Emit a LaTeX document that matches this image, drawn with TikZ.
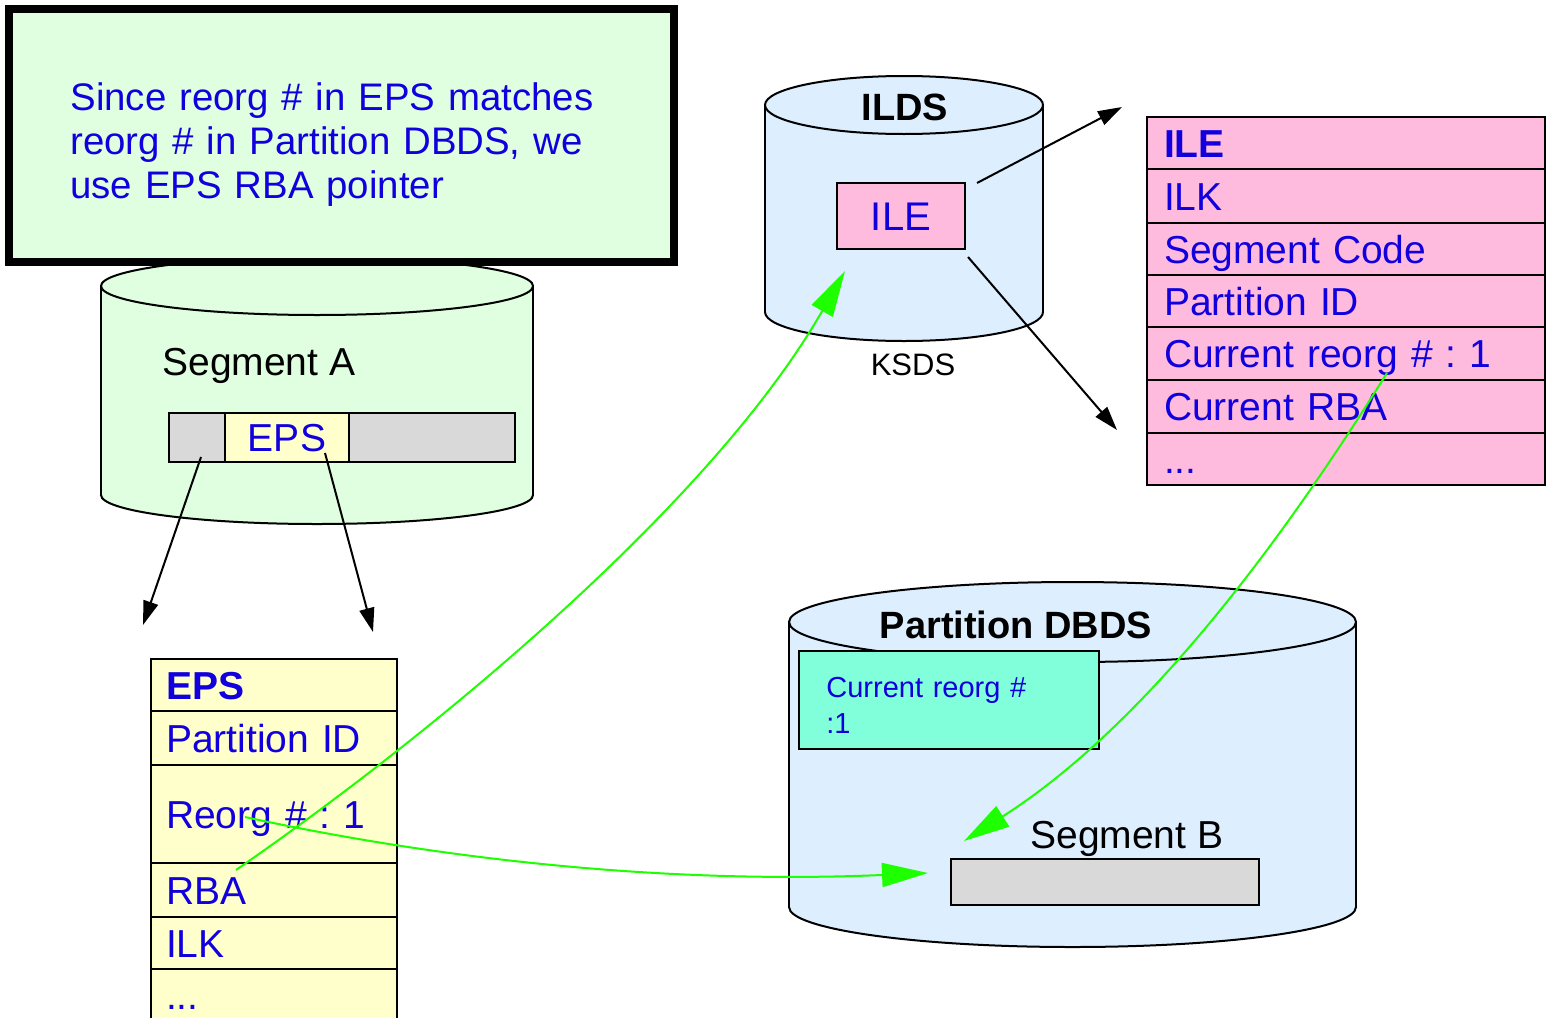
\documentclass[tikz,border=0pt]{standalone}
\usepackage{fontspec}
\setmainfont{Liberation Sans}
\usetikzlibrary{positioning,arrows.meta}
\frenchspacing

\definecolor{txtblue}{RGB}{17,0,221}
\definecolor{notegreen}{RGB}{224,255,224}
\definecolor{dbblue}{RGB}{221,238,255}
\definecolor{ilepink}{RGB}{255,187,221}
\definecolor{epsyellow}{RGB}{255,255,204}
\definecolor{cellgray}{RGB}{217,217,217}
\definecolor{reorgcyan}{RGB}{128,255,218}
\definecolor{ptrgreen}{RGB}{30,255,0}

% database drum: left x, right x, top y, bottom y, y radius, fill
\newcommand{\dbcyl}[6]{%
	\pgfmathsetmacro\cylrx{(#2-#1)/2}%
	\pgfmathsetmacro\cylcx{(#1+#2)/2}%
	\filldraw[fill=#6, line width=1pt] (\cylcx,#4) ellipse [x radius=\cylrx, y radius=#5];
	\fill[#6] (#1,#3) rectangle (#2,#4);
	\draw[line width=1pt] (#1,#3) -- (#1,#4) (#2,#3) -- (#2,#4);
	\filldraw[fill=#6, line width=1pt] (\cylcx,#3) ellipse [x radius=\cylrx, y radius=#5];
}

\tikzset{
	txt/.style = {font=\fontsize{19.5}{22}\selectfont, inner sep=0pt},
	cell/.style = {draw, line width=1pt, outer sep=0pt, txt, text=txtblue, minimum height=24.5pt, text height=14pt, text depth=0pt},
	row/.style = {draw, line width=1.1pt, outer sep=0pt, txt, inner ysep=0pt, align=left, text=txtblue, text height=14pt, text depth=0pt},
	epsrow/.style = {row, fill=epsyellow, inner xsep=7.5pt, text width=108pt},
	ilerow/.style = {row, fill=ilepink, inner xsep=8.5pt, text width=182pt},
	ptr/.style = {-{Triangle[length=12pt,width=7.5pt]}, line width=1pt},
	gptr/.style = {-{Triangle[length=23pt,width=12pt]}, line width=1pt, draw=ptrgreen},
}

\begin{document}
\begin{tikzpicture}[x=0.5pt, y=-0.5pt]
		\useasboundingbox (0,0) rectangle (1551,1017);
		% segment A and the note
		\dbcyl{101}{533}{286}{495}{29}{notegreen}
		\node[draw, line width=4pt, fill=notegreen, outer sep=0pt, minimum width=332.5pt, minimum height=126.5pt, anchor=north west] (note) at (9,9) {};
		\node[txt, font=\fontsize{19.2}{22}\selectfont, text=txtblue, text width=300pt, align=left, anchor=base west] (notetxt) at (70,110) {Since reorg \# in EPS matches\\reorg \# in Partition DBDS, we\\use EPS RBA pointer};
		\node[txt, anchor=base west] (segAtxt) at (162,375) {Segment A};
		\node[cell, fill=cellgray, minimum width=28pt, anchor=north west] (sa1) at (169,413) {};
		\node[cell, fill=epsyellow, minimum width=62pt] (sa2) [right=0pt of sa1] {EPS};
		\node[cell, fill=cellgray, minimum width=83pt] (sa3) [right=0pt of sa2] {};
		% EPS
		\node[epsrow, minimum height=26pt, anchor=north] (eps1) at (274,659) {\textbf{EPS}};
		\node[epsrow, minimum height=27pt] (eps2) [below=0pt of eps1] {Partition ID};
		\node[epsrow, minimum height=49pt] (eps3) [below=0pt of eps2] {Reorg \# : 1};
		\node[epsrow, minimum height=27pt] (eps4) [below=0pt of eps3] {RBA};
		\node[epsrow, minimum height=26pt] (eps5) [below=0pt of eps4] {ILK};
		\node[epsrow, minimum height=26pt] (eps6) [below=0pt of eps5] {...};
		% ILDS
		\dbcyl{765}{1043}{105}{312}{29}{dbblue}
		\node[txt, font=\fontsize{19}{22}\selectfont\bfseries, anchor=base] (ildstxt) at (905,120) {ILDS};
		\node[txt, font=\fontsize{15.5}{18}\selectfont, anchor=base] (ksds) at (913,375) {KSDS};
		\node[cell, fill=ilepink, minimum width=64pt, minimum height=33pt, font=\fontsize{20}{22}\selectfont] (ilebox) at (901,216) {ILE};
		% ILE
		\node[ilerow, minimum height=26pt, anchor=north] (ile1) at (1346,117) {\textbf{ILE}};
		\node[ilerow, minimum height=27pt] (ile2) [below=0pt of ile1] {ILK};
		\node[ilerow, minimum height=26pt] (ile3) [below=0pt of ile2] {Segment Code};
		\node[ilerow, minimum height=26pt] (ile4) [below=0pt of ile3] {Partition ID};
		\node[ilerow, minimum height=26.5pt] (ile5) [below=0pt of ile4] {Current reorg \# : 1};
		\node[ilerow, minimum height=26.5pt] (ile6) [below=0pt of ile5] {Current RBA};
		\node[ilerow, minimum height=26pt] (ile7) [below=0pt of ile6] {...};
		% Partition DBDS
		\dbcyl{789}{1356}{622}{907}{40}{dbblue}
		\node[txt, font=\fontsize{19}{22}\selectfont\bfseries, anchor=base] (pdbdstxt) at (1016,638) {Partition DBDS};
		\node[draw, line width=1pt, fill=reorgcyan, outer sep=0pt, minimum width=150pt, minimum height=49pt, anchor=north west] (reorgbox) at (799,651) {};
		\node[txt, font=\fontsize{14.5}{18}\selectfont, text=txtblue, text width=120pt, align=left, anchor=base west] (reorgtxt) at (826,697) {Current reorg \#\\:1};
		\node[txt, anchor=base west] (segBtxt) at (1030,848) {Segment B};
		\node[cell, fill=cellgray, minimum width=154pt, minimum height=23pt] (segb) at (1105,882) {};
		% pointers
		\coordinate (epsa) at (143,625);
		\coordinate (epsb) at (373,632);
		\coordinate (iletop) at (1122,107);
		\coordinate (ilebot) at (1117,430);
		\draw[ptr] ([xshift=2pt,yshift=2.5pt]sa1.south) -- (epsa);
		\draw[ptr] ([xshift=19pt,yshift=4.5pt]sa2.south) -- (epsb);
		\draw[ptr] ([xshift=6pt]ilebox.north east) -- (iletop);
		\draw[ptr] ([xshift=1.5pt,yshift=-4pt]ilebox.south east) -- (ilebot);
		\draw[gptr] ([xshift=42.5pt,yshift=-3.5pt]eps4.north west) .. controls (460,715) and (720,490) .. ([xshift=4pt,yshift=-11pt]ilebox.south west);
		\draw[gptr] ([xshift=47pt,yshift=-1.5pt]eps3.west) .. controls (420,855) and (650,885) .. ([xshift=-11.5pt,yshift=4.5pt]segb.west);
		\draw[gptr] ([xshift=120pt,yshift=3.5pt]ile5.south west) .. controls (1320,480) and (1170,710) .. ([xshift=6.5pt,yshift=9pt]segb.north west);
\end{tikzpicture}
\end{document}
